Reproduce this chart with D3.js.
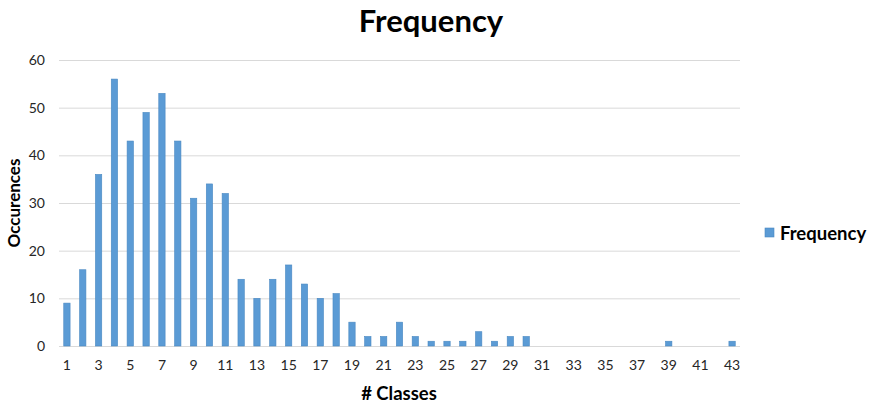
<!DOCTYPE html>
<html>
<head>
<meta charset="utf-8">
<script src="https://cdn.jsdelivr.net/npm/d3@7"></script>
<style>
  html, body { margin: 0; padding: 0; background: #fff; }
  svg { display: block; }
  text { font-family: Lato, "Open Sans", sans-serif; }
</style>
</head>
<body>
<script>
// Number of classes per item and how often each count occurs
const classes = d3.range(1, 44);
const occurrences = [9, 16, 36, 56, 43, 49, 53, 43, 31, 34, 32, 14, 10, 14, 17, 13, 10, 11, 5, 2,
                     2, 5, 2, 1, 1, 1, 3, 1, 2, 2, 0, 0, 0, 0, 0, 0, 0, 0, 1, 0, 0, 0, 1];
const yTicks = [0, 10, 20, 30, 40, 50, 60];
const xTickLabels = classes.filter(c => c % 2 === 1);
const seriesName = "Frequency";

const width = 873, height = 404;
const margin = { left: 59, right: 133, top: 60, bottom: 58 };

const svg = d3.select("body").append("svg")
  .attr("width", width).attr("height", height);

const x = d3.scaleBand()
  .domain(classes)
  .range([margin.left, width - margin.right])
  .paddingInner(0.6).paddingOuter(0.3);

const y = d3.scaleLinear()
  .domain([0, 60])
  .range([height - margin.bottom, margin.top]);

// horizontal gridlines
svg.append("g")
  .selectAll("line")
  .data(yTicks)
  .join("line")
  .attr("x1", margin.left).attr("x2", width - margin.right)
  .attr("y1", d => y(d) + 0.5).attr("y2", d => y(d) + 0.5)
  .attr("stroke", "#d9d9d9").attr("stroke-width", 1);

// y axis labels
const yAxis = d3.axisLeft(y).tickValues(yTicks).tickSize(0).tickPadding(14);
svg.append("g")
  .attr("transform", `translate(${margin.left},0)`)
  .call(yAxis)
  .call(g => g.select(".domain").remove())
  .call(g => g.selectAll("text")
    .attr("font-family", "Lato, sans-serif")
    .attr("font-size", 14).attr("fill", "#262626"));

// x axis labels (odd classes only)
const xAxis = d3.axisBottom(x).tickValues(xTickLabels).tickSize(0).tickPadding(14);
svg.append("g")
  .attr("transform", `translate(0,${y(0)})`)
  .call(xAxis)
  .call(g => g.select(".domain").remove())
  .call(g => g.selectAll("text")
    .attr("font-family", "Lato, sans-serif")
    .attr("font-size", 14).attr("fill", "#262626"));

// bars
svg.append("g")
  .selectAll("rect")
  .data(classes.map((c, i) => ({ c, v: occurrences[i] })).filter(d => d.v > 0))
  .join("rect")
  .attr("x", d => x(d.c))
  .attr("y", d => y(d.v))
  .attr("width", x.bandwidth())
  .attr("height", d => y(0) - y(d.v))
  .attr("fill", "#5b9bd5")
  .attr("stroke", "#4a89c2").attr("stroke-width", 0.6);

// title
svg.append("text")
  .attr("x", 431).attr("y", 32)
  .attr("text-anchor", "middle")
  .attr("font-size", 31).attr("font-weight", "bold")
  .attr("fill", "#000")
  .text("Frequency");

// axis titles
svg.append("text")
  .attr("transform", `translate(20,${(margin.top + y(0)) / 2}) rotate(-90)`)
  .attr("text-anchor", "middle")
  .attr("font-size", 17).attr("font-weight", "bold")
  .attr("fill", "#000")
  .text("Occurences");

svg.append("text")
  .attr("x", 399).attr("y", 400)
  .attr("text-anchor", "middle")
  .attr("font-size", 18.5).attr("font-weight", "bold")
  .attr("fill", "#000")
  .text("# Classes");

// legend
const legend = svg.append("g").attr("transform", "translate(765,228)");
legend.append("rect")
  .attr("width", 9).attr("height", 9)
  .attr("fill", "#5b9bd5").attr("stroke", "#4a89c2").attr("stroke-width", 0.6);
legend.append("text")
  .attr("x", 15).attr("y", 12)
  .attr("font-size", 18.5).attr("font-weight", "bold")
  .attr("fill", "#000")
  .text(seriesName);
</script>
</body>
</html>
